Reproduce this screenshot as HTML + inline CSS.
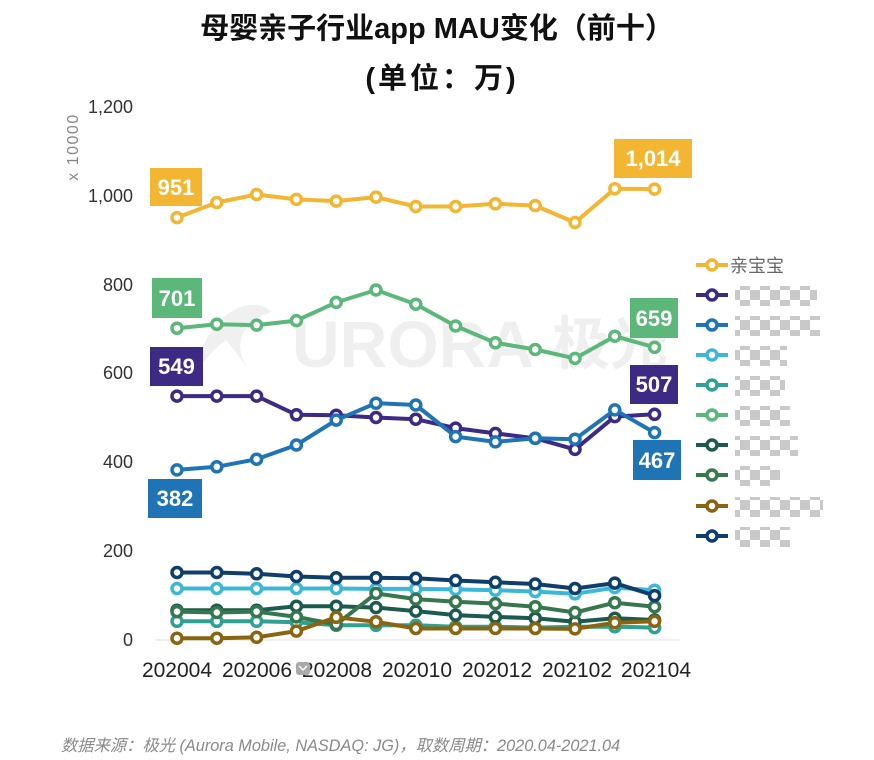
<!DOCTYPE html>
<html><head><meta charset="utf-8"><style>
html,body{margin:0;padding:0;background:#fff;}
svg{display:block;}
</style></head><body>
<svg width="874" height="760" viewBox="0 0 874 760" xmlns="http://www.w3.org/2000/svg" font-family="'Liberation Sans','Noto Sans CJK SC',sans-serif">
<defs>
<marker id="mY" markerWidth="16" markerHeight="16" refX="8" refY="8" markerUnits="userSpaceOnUse"><circle cx="8" cy="8" r="5" fill="#fff" stroke="#F2B632" stroke-width="3.5"/></marker>
<marker id="mP" markerWidth="16" markerHeight="16" refX="8" refY="8" markerUnits="userSpaceOnUse"><circle cx="8" cy="8" r="5" fill="#fff" stroke="#3C2A85" stroke-width="3.5"/></marker>
<marker id="mB" markerWidth="16" markerHeight="16" refX="8" refY="8" markerUnits="userSpaceOnUse"><circle cx="8" cy="8" r="5" fill="#fff" stroke="#1E74B5" stroke-width="3.5"/></marker>
<marker id="mC" markerWidth="16" markerHeight="16" refX="8" refY="8" markerUnits="userSpaceOnUse"><circle cx="8" cy="8" r="5" fill="#fff" stroke="#3DB7D8" stroke-width="3.5"/></marker>
<marker id="mT" markerWidth="16" markerHeight="16" refX="8" refY="8" markerUnits="userSpaceOnUse"><circle cx="8" cy="8" r="5" fill="#fff" stroke="#2FA092" stroke-width="3.5"/></marker>
<marker id="mG" markerWidth="16" markerHeight="16" refX="8" refY="8" markerUnits="userSpaceOnUse"><circle cx="8" cy="8" r="5" fill="#fff" stroke="#5BB77A" stroke-width="3.5"/></marker>
<marker id="mD" markerWidth="16" markerHeight="16" refX="8" refY="8" markerUnits="userSpaceOnUse"><circle cx="8" cy="8" r="5" fill="#fff" stroke="#1C5A4E" stroke-width="3.5"/></marker>
<marker id="mM" markerWidth="16" markerHeight="16" refX="8" refY="8" markerUnits="userSpaceOnUse"><circle cx="8" cy="8" r="5" fill="#fff" stroke="#36774F" stroke-width="3.5"/></marker>
<marker id="mR" markerWidth="16" markerHeight="16" refX="8" refY="8" markerUnits="userSpaceOnUse"><circle cx="8" cy="8" r="5" fill="#fff" stroke="#8B6410" stroke-width="3.5"/></marker>
<marker id="mN" markerWidth="16" markerHeight="16" refX="8" refY="8" markerUnits="userSpaceOnUse"><circle cx="8" cy="8" r="5" fill="#fff" stroke="#0F3E6C" stroke-width="3.5"/></marker>
<pattern id="chk" width="20" height="20" patternUnits="userSpaceOnUse">
<rect width="20" height="20" fill="#fff"/>
<rect width="10" height="10" fill="#c9c9c9"/>
<rect x="10" y="10" width="10" height="10" fill="#c9c9c9"/>
</pattern>
</defs>

<!-- Title -->
<text x="437" y="38" text-anchor="middle" font-size="29" font-weight="bold" fill="#111">母婴亲子行业app MAU变化（前十）</text>
<text x="442" y="88" text-anchor="middle" font-size="29" font-weight="bold" fill="#111" letter-spacing="3">(单位：万)</text>

<!-- watermark -->
<g fill="#000" opacity="0.06">
<path d="M196,372 Q206,318 244,306 Q262,302 272,312 Q250,318 242,336 Q236,352 250,372 Q236,352 226,340 Q212,350 196,372 Z"/>
<text x="292" y="367" font-size="66" font-weight="bold">URORA</text>
<text x="552" y="364" font-size="58" font-weight="bold">极光</text>
</g>

<!-- y axis labels -->
<g font-size="18" fill="#333" text-anchor="end">
<text x="133" y="113">1,200</text>
<text x="133" y="202">1,000</text>
<text x="133" y="291">800</text>
<text x="133" y="379">600</text>
<text x="133" y="468">400</text>
<text x="133" y="557">200</text>
<text x="133" y="646">0</text>
</g>
<text transform="translate(78,147) rotate(-90)" text-anchor="middle" font-size="16" fill="#888" letter-spacing="1.5">x 10000</text>

<!-- baseline grid -->
<line x1="155" y1="640" x2="680" y2="640" stroke="#ececec" stroke-width="1.5"/>

<!-- x axis labels -->
<g font-size="21" fill="#222" text-anchor="middle">
<text x="177" y="677">202004</text>
<text x="257" y="677">202006</text>
<text x="337" y="677">202008</text>
<text x="417" y="677">202010</text>
<text x="497" y="677">202012</text>
<text x="577" y="677">202102</text>
<text x="656" y="677">202104</text>
</g>
<rect x="296" y="662" width="14" height="13" rx="3" fill="#a9a9a9"/>
<path d="M299,666 L303,670 L307,666" fill="none" stroke="#fff" stroke-width="1.5"/>

<!-- series -->
<g fill="none" stroke-width="4" stroke-linejoin="round">
<polyline stroke="#F2B632" marker-start="url(#mY)" marker-mid="url(#mY)" marker-end="url(#mY)" points="177,217.6 216.8,202.5 256.6,194.5 296.4,199.4 336.2,201.1 376,197.1 415.8,206.5 455.6,206.5 495.4,203.8 535.2,205.6 575,222.5 614.8,188.7 654.6,189.1"/>
<polyline stroke="#3C2A85" marker-start="url(#mP)" marker-mid="url(#mP)" marker-end="url(#mP)" points="177,396.1 216.8,396.1 256.6,396.1 296.4,414.8 336.2,415.2 376,417.5 415.8,419.2 455.6,428.1 495.4,433.4 535.2,438.3 575,449.4 614.8,416.6 654.6,414.3"/>
<polyline stroke="#1E74B5" marker-start="url(#mB)" marker-mid="url(#mB)" marker-end="url(#mB)" points="177,469.9 216.8,466.8 256.6,459.2 296.4,445 336.2,420.1 376,403.2 415.8,405 455.6,436.6 495.4,441.9 535.2,438.3 575,439.2 614.8,409.9 654.6,432.6"/>
<polyline stroke="#3DB7D8" marker-start="url(#mC)" marker-mid="url(#mC)" marker-end="url(#mC)" points="177,588.5 216.8,588.5 256.6,588.5 296.4,588.5 336.2,588.5 376,588.9 415.8,588.9 455.6,589.4 495.4,590.2 535.2,591.6 575,593.8 614.8,587.6 654.6,590.2"/>
<polyline stroke="#2FA092" marker-start="url(#mT)" marker-mid="url(#mT)" marker-end="url(#mT)" points="177,621.3 216.8,621.3 256.6,621.3 296.4,622.2 336.2,625.3 376,625.3 415.8,625.3 455.6,626.7 495.4,626.7 535.2,627.6 575,626.7 614.8,626.7 654.6,627.6"/>
<polyline stroke="#5BB77A" marker-start="url(#mG)" marker-mid="url(#mG)" marker-end="url(#mG)" points="177,328.2 216.8,324.2 256.6,325.1 296.4,320.6 336.2,302.4 376,290 415.8,304.2 455.6,326 495.4,342.8 535.2,349.5 575,358.4 614.8,336.2 654.6,347.3"/>
<polyline stroke="#1C5A4E" marker-start="url(#mD)" marker-mid="url(#mD)" marker-end="url(#mD)" points="177,610.2 216.8,610.2 256.6,610.2 296.4,606.2 336.2,606.2 376,607.6 415.8,611.1 455.6,615.1 495.4,616.9 535.2,618.2 575,621.8 614.8,618.2 654.6,620"/>
<polyline stroke="#36774F" marker-start="url(#mM)" marker-mid="url(#mM)" marker-end="url(#mM)" points="177,611.6 216.8,612.5 256.6,611.6 296.4,616.9 336.2,624.5 376,593.4 415.8,599.1 455.6,601.8 495.4,603.6 535.2,606.7 575,612.5 614.8,602.7 654.6,606.7"/>
<polyline stroke="#8B6410" marker-start="url(#mR)" marker-mid="url(#mR)" marker-end="url(#mR)" points="177,638.2 216.8,638.2 256.6,637.3 296.4,631.1 336.2,617.3 376,621.8 415.8,628.5 455.6,628.5 495.4,628.5 535.2,628.5 575,628.9 614.8,622.7 654.6,621.3"/>
<polyline stroke="#0F3E6C" marker-start="url(#mN)" marker-mid="url(#mN)" marker-end="url(#mN)" points="177,572.5 216.8,572.5 256.6,573.8 296.4,576.5 336.2,577.8 376,577.8 415.8,578.3 455.6,580.5 495.4,582.3 535.2,584 575,588.5 614.8,583.1 654.6,595.6"/>
</g>

<!-- value labels -->
<g font-size="22" font-weight="bold" fill="#fff" text-anchor="middle">
<rect x="150" y="168" width="52" height="38" fill="#F2B632"/><text x="176" y="195">951</text>
<rect x="614" y="139" width="78" height="39" fill="#F2B632"/><text x="653" y="166">1,014</text>
<rect x="152" y="278" width="50" height="40" fill="#5BB77A"/><text x="177" y="306">701</text>
<rect x="150" y="347" width="53" height="39" fill="#3C2A85"/><text x="176.5" y="374">549</text>
<rect x="148" y="479" width="54" height="39" fill="#1E74B5"/><text x="175" y="506">382</text>
<rect x="630" y="298" width="48" height="40" fill="#5BB77A"/><text x="654" y="326">659</text>
<rect x="630" y="365" width="48" height="39" fill="#3C2A85"/><text x="654" y="392">507</text>
<rect x="633" y="440" width="48" height="40" fill="#1E74B5"/><text x="657" y="468">467</text>
</g>

<!-- legend -->
<g stroke-width="4" fill="#fff">
<line x1="696" y1="265" x2="728" y2="265" stroke="#F2B632"/><circle cx="712" cy="265" r="5" stroke="#F2B632" stroke-width="3.5"/>
<line x1="696" y1="295" x2="728" y2="295" stroke="#3C2A85"/><circle cx="712" cy="295" r="5" stroke="#3C2A85" stroke-width="3.5"/>
<line x1="696" y1="325" x2="728" y2="325" stroke="#1E74B5"/><circle cx="712" cy="325" r="5" stroke="#1E74B5" stroke-width="3.5"/>
<line x1="696" y1="355" x2="728" y2="355" stroke="#3DB7D8"/><circle cx="712" cy="355" r="5" stroke="#3DB7D8" stroke-width="3.5"/>
<line x1="696" y1="385" x2="728" y2="385" stroke="#2FA092"/><circle cx="712" cy="385" r="5" stroke="#2FA092" stroke-width="3.5"/>
<line x1="696" y1="415" x2="728" y2="415" stroke="#5BB77A"/><circle cx="712" cy="415" r="5" stroke="#5BB77A" stroke-width="3.5"/>
<line x1="696" y1="445" x2="728" y2="445" stroke="#1C5A4E"/><circle cx="712" cy="445" r="5" stroke="#1C5A4E" stroke-width="3.5"/>
<line x1="696" y1="475" x2="728" y2="475" stroke="#36774F"/><circle cx="712" cy="475" r="5" stroke="#36774F" stroke-width="3.5"/>
<line x1="696" y1="506" x2="728" y2="506" stroke="#8B6410"/><circle cx="712" cy="506" r="5" stroke="#8B6410" stroke-width="3.5"/>
<line x1="696" y1="536" x2="728" y2="536" stroke="#0F3E6C"/><circle cx="712" cy="536" r="5" stroke="#0F3E6C" stroke-width="3.5"/>
</g>
<text x="730" y="272" font-size="18" fill="#666">亲宝宝</text>
<g fill="url(#chk)">
<rect x="735" y="286" width="82" height="20"/>
<rect x="735" y="316" width="85" height="20"/>
<rect x="735" y="346" width="52" height="20"/>
<rect x="735" y="376" width="50" height="20"/>
<rect x="735" y="406" width="55" height="20"/>
<rect x="735" y="436" width="63" height="20"/>
<rect x="735" y="466" width="45" height="20"/>
<rect x="735" y="497" width="88" height="20"/>
<rect x="735" y="527" width="55" height="20"/>
</g>

<!-- footer -->
<text x="61" y="751" font-size="16.3" font-style="italic" fill="#8a8a8a">数据来源：极光 (Aurora Mobile, NASDAQ: JG)，取数周期：2020.04-2021.04</text>
</svg>
</body></html>
